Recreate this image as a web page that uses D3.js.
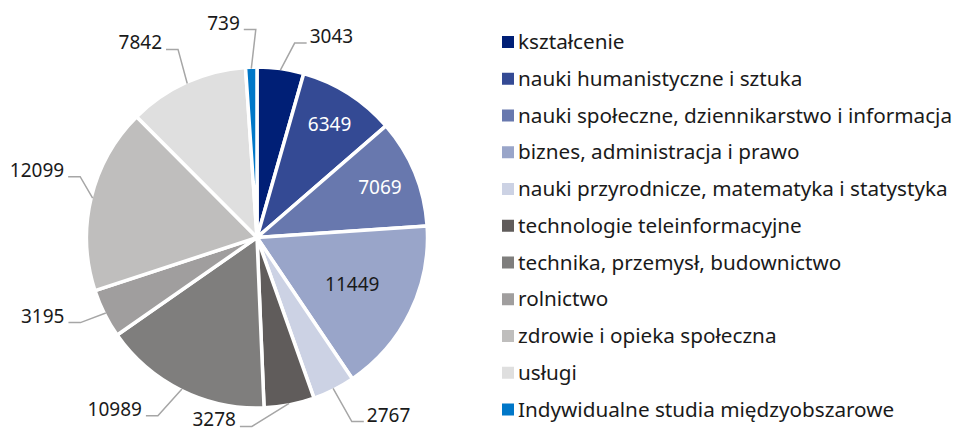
<!DOCTYPE html>
<html>
<head>
<meta charset="utf-8">
<script src="https://cdn.jsdelivr.net/npm/d3@7"></script>
<style>
  body { margin: 0; background: #fff; }
  svg { display: block; font-family: "Noto Sans", "Open Sans", sans-serif; }
</style>
</head>
<body>
<script>
var w = 957;
var h = 433;

// data
var categories = [
  "kształcenie",
  "nauki humanistyczne i sztuka",
  "nauki społeczne, dziennikarstwo i informacja",
  "biznes, administracja i prawo",
  "nauki przyrodnicze, matematyka i statystyka",
  "technologie teleinformacyjne",
  "technika, przemysł, budownictwo",
  "rolnictwo",
  "zdrowie i opieka społeczna",
  "usługi",
  "Indywidualne studia międzyobszarowe"
];
var values = [3043, 6349, 7069, 11449, 2767, 3278, 10989, 3195, 12099, 7842, 739];
var colors = ["#001f76", "#344a94", "#6878ae", "#99a5c9", "#ccd2e4", "#605c5b",
              "#7f7e7d", "#a09e9e", "#bfbebd", "#dfdfdf", "#0077c8"];

// label layout: inside labels get a radius, outside ones an elbow (angle nudge in degrees, radius)
var inside = [false, true, true, true, false, false, false, false, false, false, false];
var insideR = [0, 135, 133, 106, 0, 0, 0, 0, 0, 0, 0];
var insideFill = ["", "#fff", "#fff", "#1a1a1a", "", "", "", "", "", "", ""];
var elbowNudge = [3, 0, 0, 0, -0.5, 12.5, 2.7, 0.8, 5.5, 1.6, 1.6];
var elbowR = [198, 0, 0, 0, 207, 189, 204, 196, 187, 204, 208];

var cx = 257, cy = 237.5, r = 169;

var svg = d3.select("body")
  .append("svg")
  .attr("width", w)
  .attr("height", h);

var pie = d3.pie().sort(null).value(function(d) { return d; });
var arcs = pie(values);

var arc = d3.arc().innerRadius(0).outerRadius(r + 1.5);

var g = svg.append("g").attr("transform", "translate(" + cx + "," + cy + ")");

g.selectAll("path")
  .data(arcs)
  .enter()
  .append("path")
  .attr("d", arc)
  .attr("fill", function(d, i) { return colors[i]; })
  .attr("stroke", "#fff")
  .attr("stroke-width", 3.5)
  .attr("stroke-linejoin", "round");

function mid(d) { return (d.startAngle + d.endAngle) / 2; }
function pt(a, rad) { return [rad * Math.sin(a), -rad * Math.cos(a)]; }
function elbow(d) { return pt(mid(d) + elbowNudge[d.index] * Math.PI / 180, elbowR[d.index]); }

// inside labels
g.selectAll("text.in")
  .data(arcs.filter(function(d, i) { return inside[i]; }))
  .enter()
  .append("text")
  .attr("class", "in")
  .attr("x", function(d) { return pt(mid(d), insideR[d.index])[0]; })
  .attr("y", function(d) { return pt(mid(d), insideR[d.index])[1]; })
  .attr("dy", "0.36em")
  .attr("text-anchor", "middle")
  .style("font-size", "19px")
  .attr("fill", function(d) { return insideFill[d.index]; })
  .text(function(d) { return values[d.index]; });

// outside labels with leader lines
var outs = arcs.filter(function(d, i) { return !inside[i]; });

g.selectAll("polyline")
  .data(outs)
  .enter()
  .append("polyline")
  .attr("fill", "none")
  .attr("stroke", "#a6a6a6")
  .attr("stroke-width", 1.5)
  .attr("points", function(d) {
    var p0 = pt(mid(d), r);
    var p1 = elbow(d);
    var side = p1[0] >= 0 ? 1 : -1;
    var p2 = [p1[0] + side * 12, p1[1]];
    return [p0, p1, p2].map(function(p) { return p.join(","); }).join(" ");
  });

g.selectAll("text.out")
  .data(outs)
  .enter()
  .append("text")
  .attr("class", "out")
  .attr("x", function(d) {
    var p1 = elbow(d);
    return p1[0] >= 0 ? p1[0] + 15 : p1[0] - 16;
  })
  .attr("y", function(d) { return elbow(d)[1]; })
  .attr("text-anchor", function(d) { return elbow(d)[0] >= 0 ? "start" : "end"; })
  .style("font-size", "19px")
  .attr("fill", "#1a1a1a")
  .text(function(d) { return values[d.index]; });

// legend
var legend = svg.append("g").attr("transform", "translate(502,36)");
var rowH = 36.75;

var rows = legend.selectAll("g")
  .data(categories)
  .enter()
  .append("g")
  .attr("transform", function(d, i) { return "translate(0," + (i * rowH) + ")"; });

rows.append("rect")
  .attr("width", 12)
  .attr("height", 12)
  .attr("fill", function(d, i) { return colors[i]; });

rows.append("text")
  .attr("x", 16)
  .attr("y", 13)
  .style("font-size", "20.7px")
  .attr("fill", "#1a1a1a")
  .text(function(d) { return d; });
</script>
</body>
</html>
